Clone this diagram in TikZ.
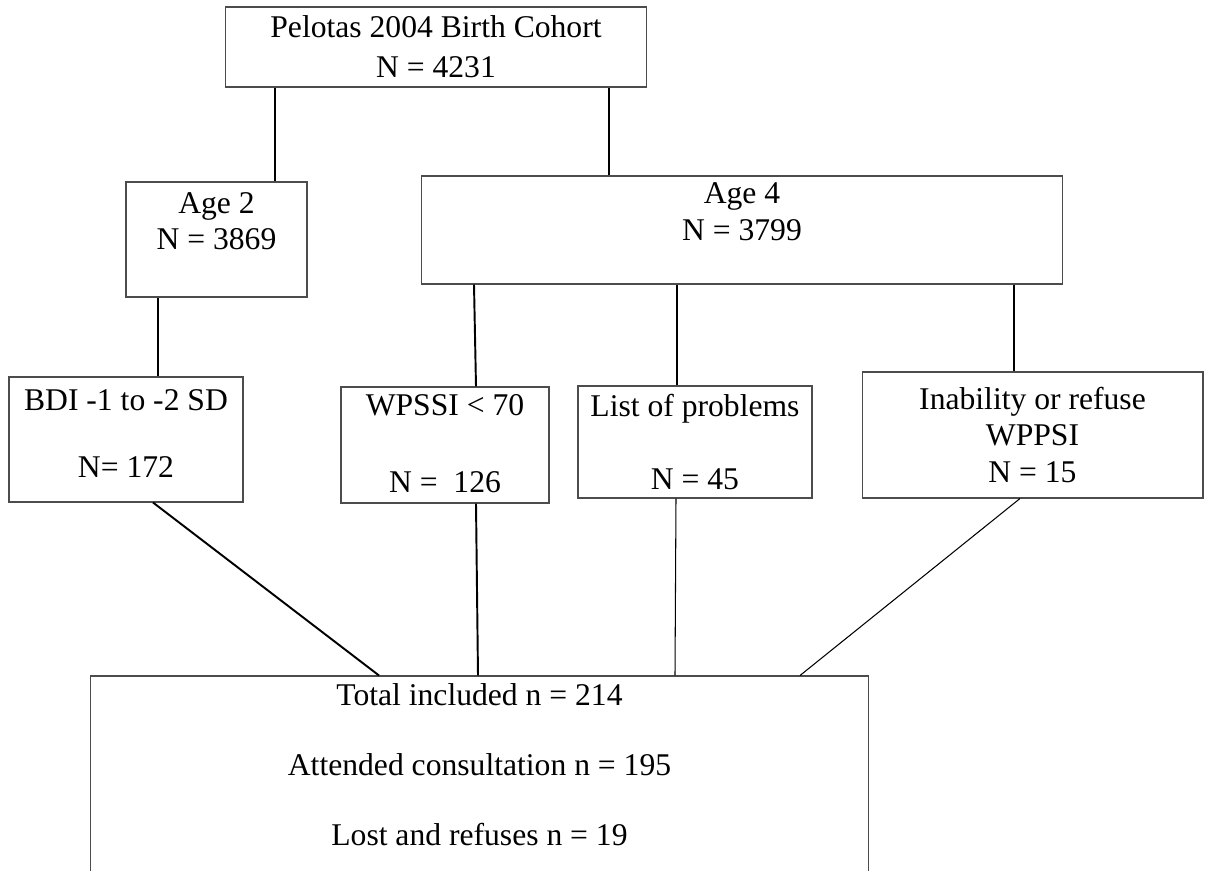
\documentclass[tikz,border=0pt]{standalone}
\usepackage{fontspec}
\setmainfont{Liberation Serif}

\begin{document}
\begin{tikzpicture}[x=0.02cm, y=-0.02cm,
  box/.style={draw=black!70, line width=0.6pt, inner sep=0pt, align=center,
    font=\fontsize{18}{21}\selectfont},
  link/.style={line width=1.1pt},
  thinlink/.style={line width=0.6pt}]
\useasboundingbox (0,0) rectangle (1205,871);
\clip (0,0) rectangle (1205,871);

% cohort and the two follow-ups
\node at (436,47) (cohort) [box, minimum width=8.44cm, minimum height=1.6cm]
{Pelotas 2004 Birth Cohort\\[0.6mm]N = 4231};

\node at (216.5,239.5) (agetwo) [box, minimum width=3.62cm, minimum height=2.3cm]
{Age 2\\N = 3869\\\mbox{}};

\node at (742,230) (agefour) [box, minimum width=12.84cm, minimum height=2.16cm]
{Age 4\\N = 3799\\\mbox{}};

% screening criteria
\node at (126,439.5) (bdi) [box, minimum width=4.68cm, minimum height=2.5cm]
{BDI -1 to -2 SD\\[6.2mm]N= 172\\[-5mm]\mbox{}};

\node at (445,445) (wpssi) [box, minimum width=4.16cm, minimum height=2.32cm]
{WPSSI < 70\\[8mm]N = \ 126\\[-6.6mm]\mbox{}};

\node at (695,442) (problems) [box, minimum width=4.68cm, minimum height=2.24cm]
{List of problems\\[7.4mm]N = 45};

\node at (1032.5,435) (inability) [box, minimum width=6.82cm, minimum height=2.52cm]
{Inability or refuse\\WPPSI\\N = 15};

% final sample
\node at (479.5,788) (total) [box, minimum width=15.58cm, minimum height=4.48cm]
{Total included n = 214\\[6.6mm]Attended consultation n = 195\\[6.6mm]Lost and refuses n = 19\\[2mm]\mbox{}};

\draw[link] (275,0 |- cohort.south) -- (275,0 |- agetwo.north);
\draw[link] (609,0 |- cohort.south) -- (609,0 |- agefour.north);
\draw[link] (158,0 |- agetwo.south) -- (158,0 |- bdi.north);
\draw[link] (474,0 |- agefour.south) -- (476,0 |- wpssi.north);
\draw[link] (677,0 |- agefour.south) -- (677,0 |- problems.north);
\draw[thinlink] (1014,0 |- agefour.south) -- (1014,0 |- inability.north);

\draw[link] (153,0 |- bdi.south) -- (379,0 |- total.north);
\draw[link] (476,0 |- wpssi.south) -- (478,0 |- total.north);
\draw[thinlink] (676,0 |- problems.south) -- (675,0 |- total.north);
\draw[thinlink] (1020,0 |- inability.south) -- (800,0 |- total.north);
\end{tikzpicture}
\end{document}
